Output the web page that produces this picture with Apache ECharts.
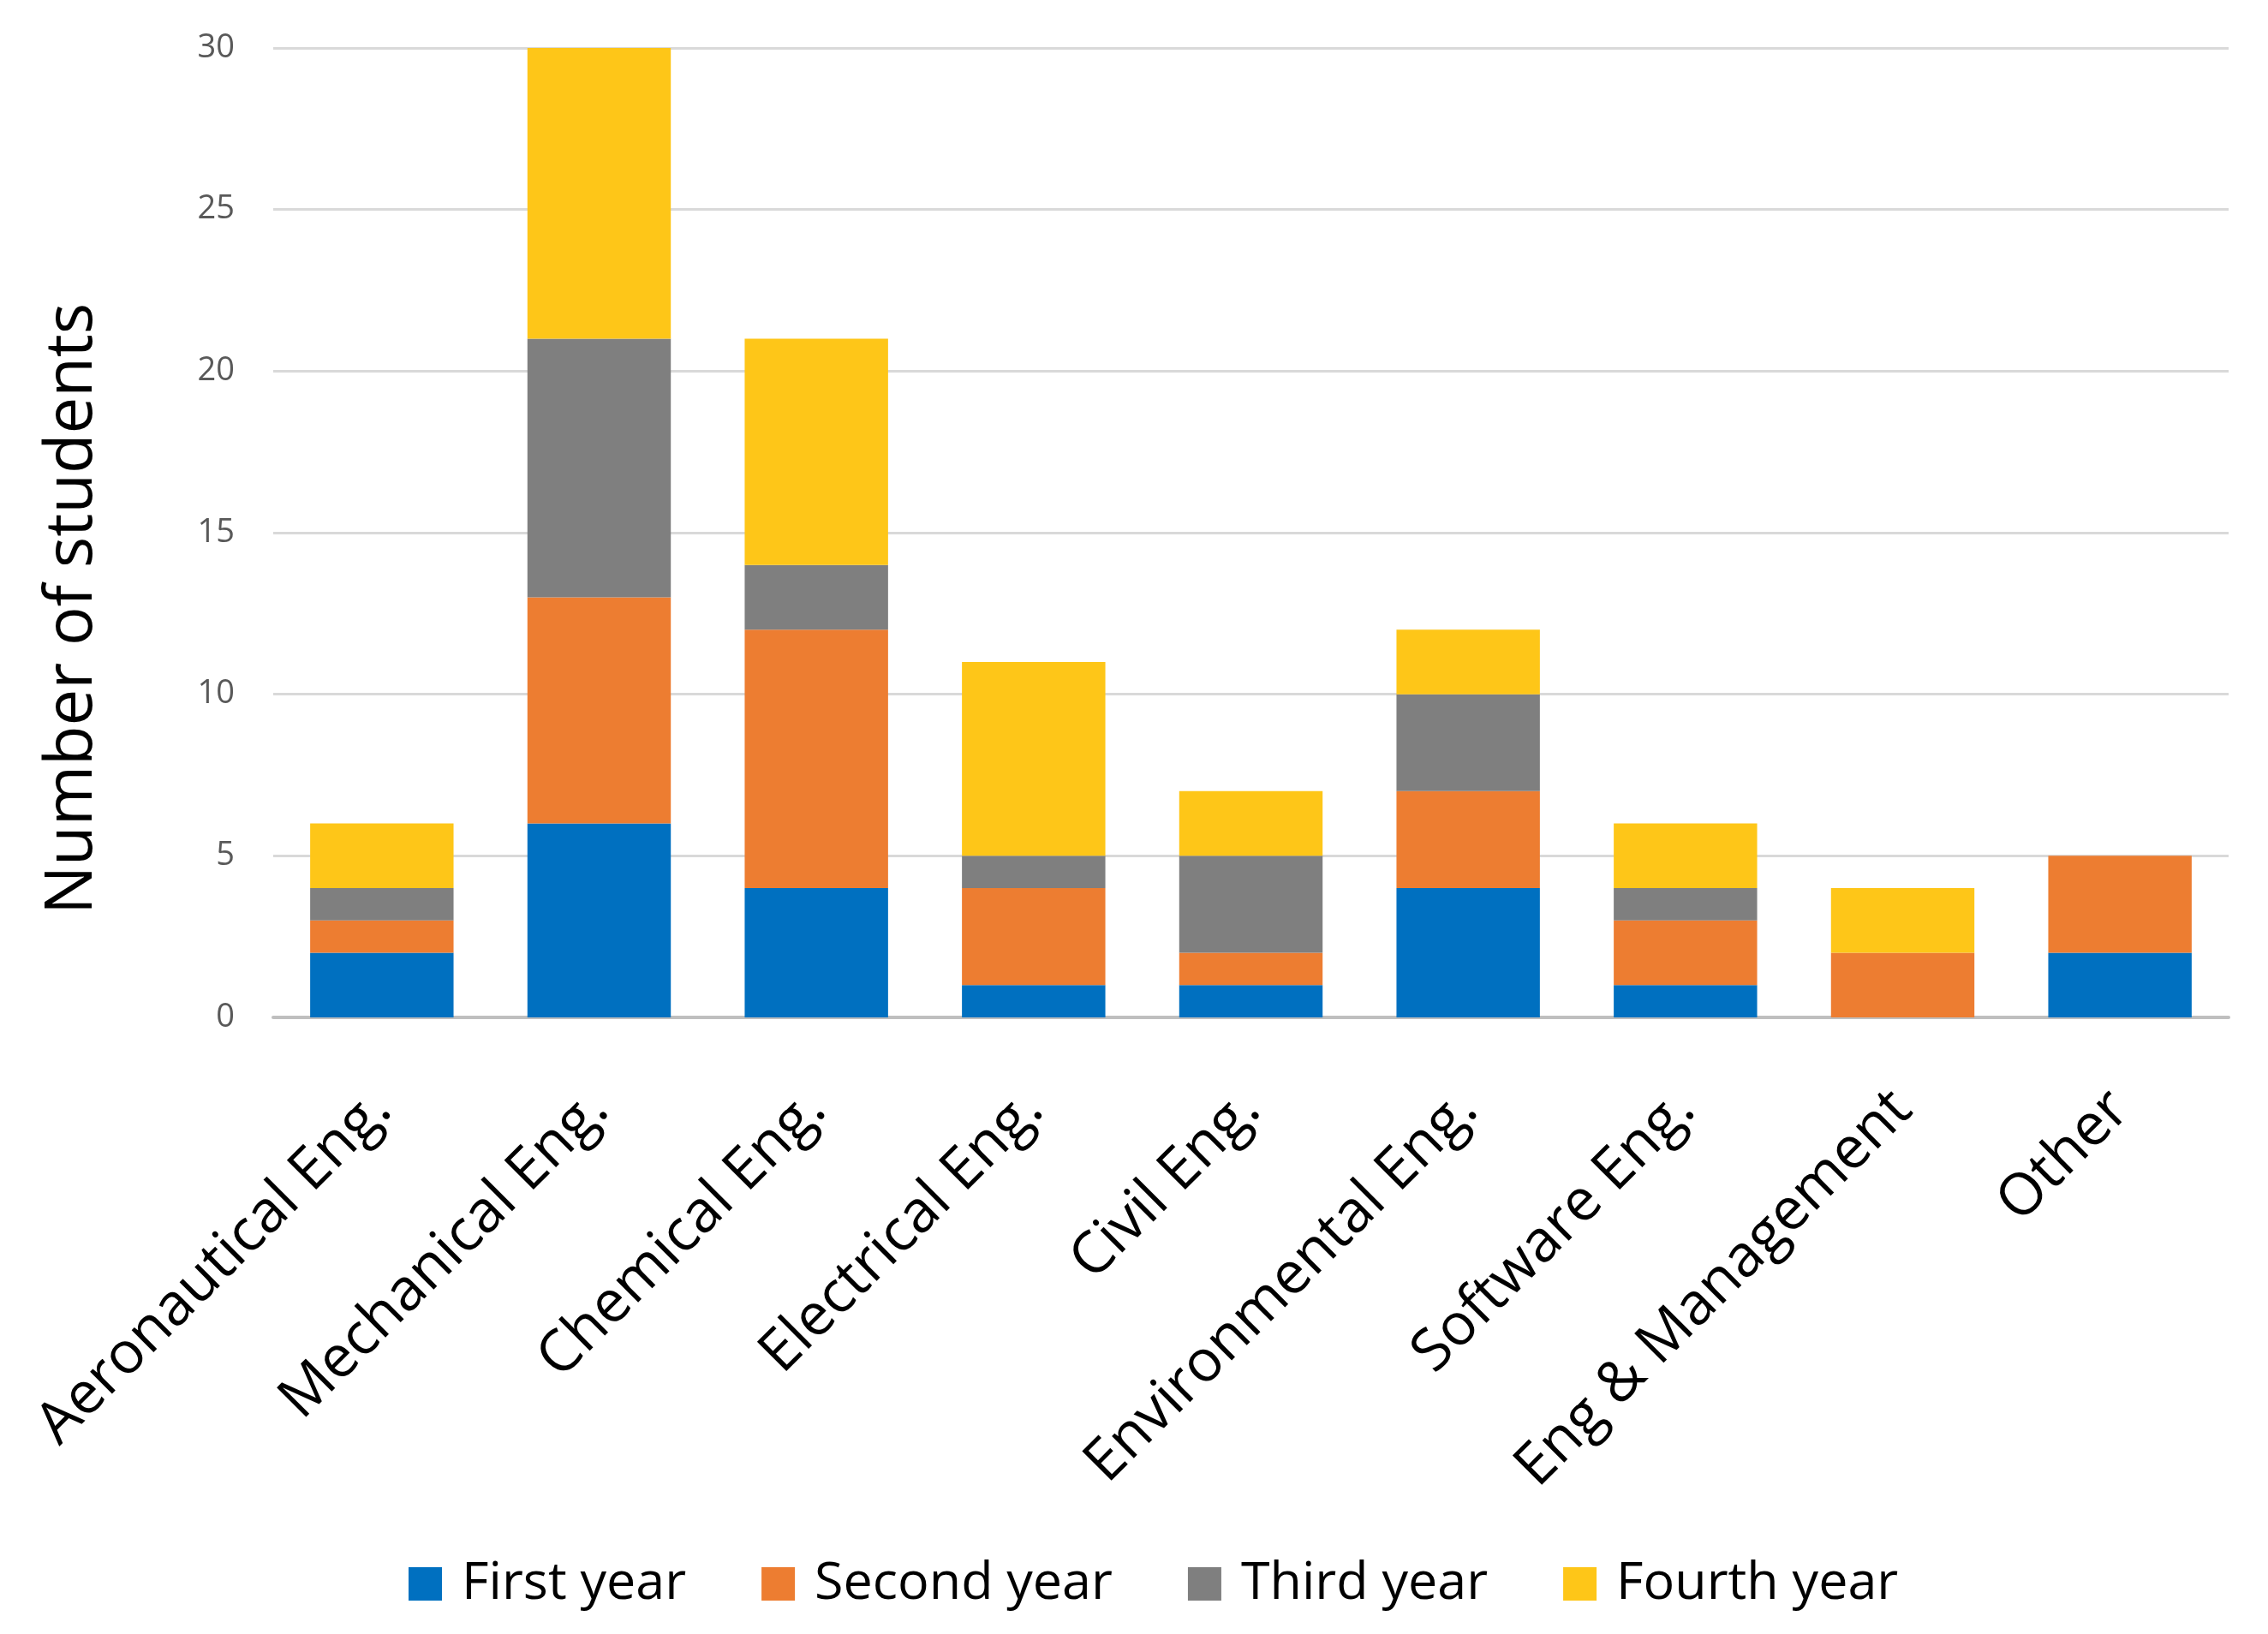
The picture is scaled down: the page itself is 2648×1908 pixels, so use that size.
<!DOCTYPE html>
<html>
<head>
<meta charset="utf-8">
<script src="https://cdn.jsdelivr.net/npm/echarts@6/dist/echarts.min.js"></script>
<style>
html,body{margin:0;padding:0;background:#fff;}
#chart{width:2648px;height:1908px;}
</style>
</head>
<body>
<div id="chart"></div>
<script>
const categories = ["Aeronautical Eng.", "Mechanical Eng.", "Chemical Eng.", "Electrical Eng.", "Civil Eng.", "Environmental Eng.", "Software Eng.", "Eng & Management", "Other"];
const firstYear  = [2, 6, 4, 1, 1, 4, 1, 0, 2];
const secondYear = [1, 7, 8, 3, 1, 3, 2, 2, 3];
const thirdYear  = [1, 8, 2, 1, 3, 3, 1, 0, 0];
const fourthYear = [2, 9, 7, 6, 2, 2, 2, 2, 0];
const seriesNames = ["First year", "Second year", "Third year", "Fourth year"];
const colors = ["#0070C0", "#ED7D31", "#7F7F7F", "#FEC618"];

const chart = echarts.init(document.getElementById('chart'), null, {renderer: 'canvas'});
const font = "Open Sans";
const data = [firstYear, secondYear, thirdYear, fourthYear];
chart.setOption({
  animation: false,
  backgroundColor: '#ffffff',
  color: colors,
  grid: {left: 319, right: 46, top: 56, bottom: 720, containLabel: false},
  legend: {
    top: 1814,
    left: 472,
    itemWidth: 39, itemHeight: 39, itemGap: 88,
    icon: 'rect',
    textStyle: {fontFamily: font, fontSize: 61, color: '#000', padding: [0,0,0,18]},
    data: seriesNames
  },
  xAxis: {
    type: 'category',
    data: categories,
    axisLine: {lineStyle: {color: '#BFBFBF', width: 4}},
    axisTick: {show: false},
    axisLabel: {rotate: 45, interval: 0, margin: 97, fontFamily: font, fontSize: 68, color: '#000'}
  },
  yAxis: {
    type: 'value',
    min: 0, max: 30, interval: 5,
    name: 'Number of students',
    nameLocation: 'middle',
    nameGap: 196,
    nameTextStyle: {fontFamily: font, fontSize: 76, color: '#000', padding: [0, 178, 0, 0]},
    axisLine: {show: false},
    axisTick: {show: false},
    splitLine: {lineStyle: {color: '#D9D9D9', width: 3}},
    axisLabel: {fontFamily: font, fontSize: 38, color: '#595959', margin: 45}
  },
  series: data.map((d, i) => ({
    name: seriesNames[i],
    type: 'bar',
    stack: 'total',
    barCategoryGap: '34%',
    data: d,
    itemStyle: {color: colors[i]}
  }))
});
</script>
</body>
</html>
